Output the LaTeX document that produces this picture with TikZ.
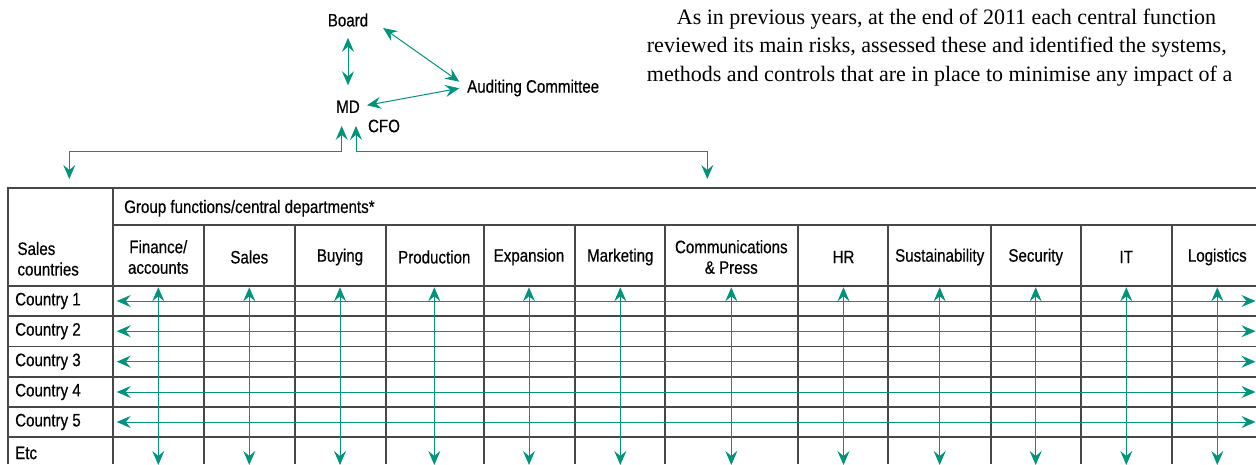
\documentclass[tikz,border=0pt]{standalone}
\usepackage{fontspec}
\setmainfont{Liberation Sans}[FakeStretch=0.84,FakeBold=0.4]
\newfontfamily\bodyfont{Liberation Serif}
\usetikzlibrary{arrows.meta}

\definecolor{riskgreen}{RGB}{0,148,125}

\tikzset{
  lab/.style={font=\fontsize{18}{20.6}\selectfont, inner sep=4pt, align=center},
  body/.style={font=\bodyfont\fontsize{22}{28}\selectfont, inner sep=0pt, anchor=base west},
  flow/.style={riskgreen, line width=1pt,
    {Stealth[length=14pt,width=12pt,inset=5pt]}-{Stealth[length=14pt,width=12pt,inset=5pt]}},
  tabline/.style={black!72, line width=1.1pt},
}

\begin{document}
\begin{tikzpicture}[x=1pt,y=-1pt]
  \useasboundingbox (0,0) rectangle (1256,464);

  % reporting lines on top
  \node[lab] (board) at (348,20) {Board};
  \node[lab] (md) at (348,106.7) {MD};
  \node[lab] (cfo) at (384,126) {CFO};
  \node[lab,anchor=west] (audit) at (463,88) {Auditing Committee};

  \draw[flow] ([yshift=-7pt]board.south) -- ([yshift=11pt]md.north);
  \draw[flow] ([xshift=10.8pt,yshift=-8pt]board.east) -- ([xshift=-3.7pt,yshift=6.3pt]audit.west);
  \draw[flow] ([xshift=3pt,yshift=1.4pt]md.east) -- ([xshift=-3.7pt,yshift=-0.3pt]audit.west);

  \coordinate (mdl) at ([xshift=-6.3pt,yshift=-8.8pt]md.south);
  \coordinate (mdr) at ([xshift=8pt,yshift=-8.8pt]md.south);
  \coordinate (dl) at (69.3,179);
  \coordinate (dr) at (707.3,179);
  \draw[flow] (dl) -- ++(0,-27.3) -| (mdl);
  \draw[flow] (dr) -- ++(0,-27.3) -| (mdr);

  % running text
  \node[body] (p1) at (676.7,24) {As in previous years, at the end of 2011 each central function};
  \node[body] (p2) at (646.7,52.7) {reviewed its main risks, assessed these and identified the systems,};
  \node[body] (p3) at (646.7,81.7) {methods and controls that are in place to minimise any impact of a};

  % table
  \draw[tabline] (8,464) -- (8,188) -- (1256,188);
  \draw[tabline] (113,188) -- (113,464);
  \draw[tabline] (113,225) -- (1256,225);
  \foreach \y in {286,316,346.5,377,407,437}
    \draw[tabline] (8,\y) -- (1256,\y);
  \foreach \x in {204,295,386,484,575,665,798,888,991,1081,1172}
    \draw[tabline] (\x,225) -- (\x,464);

  \node[lab,anchor=west] (grp) at (120,208.3) {Group functions/central departments*};
  \node[lab,anchor=west,align=left] (sales) at (13.3,258.8) {Sales\\countries};

  \foreach \x/\t [count=\i] in {158.3/{Finance/\\accounts}, 249.3/Sales, 340/Buying,
      434.3/Production, 529/Expansion, 620.3/Marketing, 731.3/{Communications\\\& Press},
      843.5/HR, 939.7/Sustainability, 1035.7/Security, 1126.3/IT, 1217.3/Logistics}
  {
    \node[lab] (h\i) at (\x,257) {\t};
    \coordinate (vt\i) at (\x,287.3);
    \coordinate (vb\i) at (\x,465);
    \draw[flow] (vt\i) -- (vb\i);
  }

  \foreach \y/\t [count=\i] in {301/Country 1, 331.2/Country 2, 361.7/Country 3,
      392/Country 4, 422/Country 5}
  {
    \node[lab,anchor=west] (c\i) at (11,\y) {\t};
    \coordinate (rl\i) at (116.7,\y);
    \coordinate (rr\i) at (1255.5,\y);
    \draw[flow] (rl\i) -- (rr\i);
  }
  \node[lab,anchor=west] (etc) at (11,453) {Etc};
\end{tikzpicture}
\end{document}
